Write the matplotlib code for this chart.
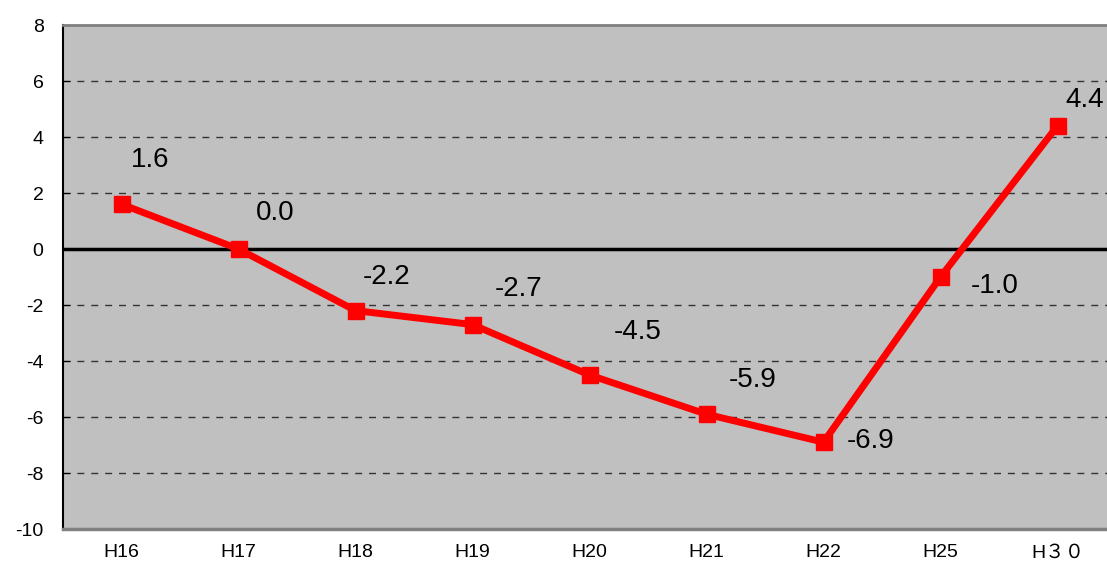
import matplotlib
matplotlib.use("Agg")
import matplotlib.pyplot as plt

plt.rcParams['font.family'] = ['Liberation Sans', 'Noto Sans CJK JP', 'DejaVu Sans']
plt.rcParams['axes.unicode_minus'] = False

categories = ["H16", "H17", "H18", "H19", "H20", "H21", "H22", "H25", "H３０"]
values = [1.6, 0.0, -2.2, -2.7, -4.5, -5.9, -6.9, -1.0, 4.4]
# label offsets in pixels (dx, dy)
offsets = [(29, 44), (37, 36), (31, 34), (46, 36), (48, 43), (46, 34), (47, 1), (54, -9), (27, 26)]

fig = plt.figure(figsize=(11.07, 5.66), dpi=100)
ax = fig.add_axes([63/1107, 37/566, (1116 - 63)/1107, (529 - 25)/566])
ax.set_facecolor("#c0c0c0")

x = list(range(len(categories)))
ax.set_xlim(-0.5, len(categories) - 0.5)
ax.set_ylim(-10, 8)

for yv in [6, 4, 2, -2, -4, -6, -8]:
    ax.axhline(yv, color="#333333", lw=1, ls=(0, (5, 5)), zorder=1)
ax.axhline(0, color="black", lw=2.5, zorder=2)

ax.plot(x, values, color="#ff0000", lw=5, marker="s", markersize=11, zorder=3)

for xi, v, (dx, dy) in zip(x, values, offsets):
    ax.annotate(f"{v:.1f}", (xi, v), xytext=(dx * 0.72, dy * 0.72),
                textcoords="offset points", ha="center", va="center",
                fontsize=20, color="black")

ax.set_yticks(range(-10, 9, 2))
ax.set_xticks(x)
ax.set_xticklabels(categories)
ax.tick_params(axis="y", direction="in", length=5, pad=14, labelsize=14)
ax.tick_params(axis="x", length=0, pad=11, labelsize=14)

ax.spines["right"].set_visible(False)
ax.spines["top"].set_color("#808080")
ax.spines["top"].set_linewidth(2)
ax.spines["bottom"].set_color("#808080")
ax.spines["bottom"].set_linewidth(2.5)
ax.spines["left"].set_color("black")
ax.spines["left"].set_linewidth(1.5)

fig.savefig("out.png", dpi=100)
